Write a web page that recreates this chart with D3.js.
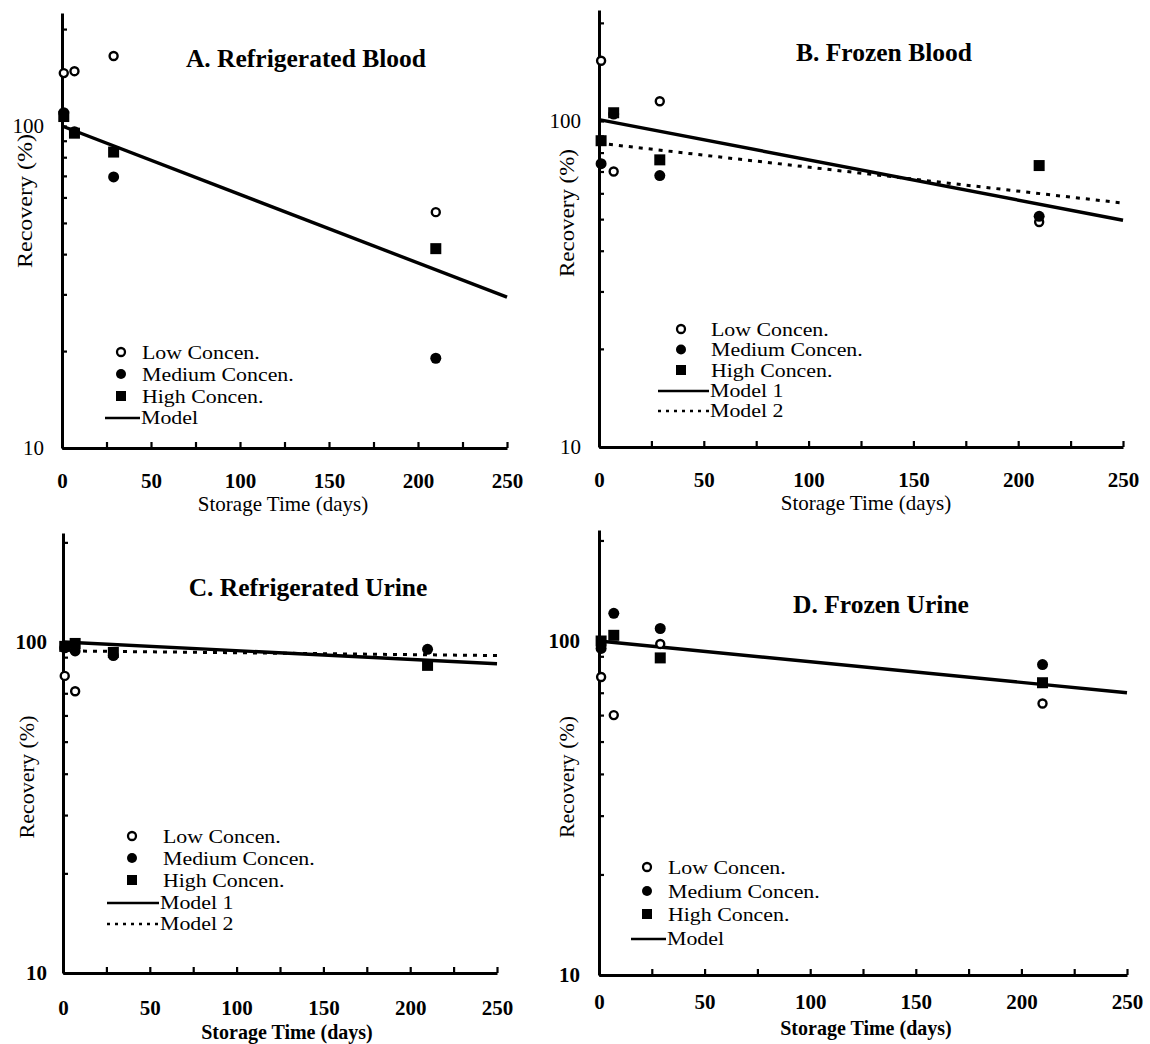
<!DOCTYPE html>
<html>
<head>
<meta charset="utf-8">
<script src="https://cdn.jsdelivr.net/npm/d3@7"></script>
<style>
  body { margin: 0; background: #fff; }
  svg text { font-family: "Liberation Serif", "Times New Roman", serif; fill: #000; }
</style>
</head>
<body>
<svg id="chart" width="1150" height="1044"></svg>
<script>
// storage times (days) for the measured samples
var days = [1, 7, 29, 210];
var modelDays = [0, 250];

// A. refrigerated blood
var lowA = [146, 148, 165, 54];
var medA = [110, 96, 69.5, 19];
var highA = [107, 95, 83, 41.6];
var modelA = [100, 29.4];

// B. frozen blood
var lowB = [153, 70, 115, 49];
var medB = [74, 105, 68, 51];
var highB = [87, 106, 76, 73];
var model1B = [101, 49.6];
var model2B = [85.5, 56];

// C. refrigerated urine (no visible low point at 29 / 210 days)
var lowC = [79, 71, null, null];
var medC = [96, 94, 91, 95];
var highC = [97, 99, 93, 85];
var model1C = [100, 86];
var model2C = [94, 91];

// D. frozen urine
var lowD = [78, 60, 98, 65];
var medD = [95, 121, 109, 85];
var highD = [100, 104, 89, 75];
var modelD = [100, 70];

var xTicks = [0, 25, 50, 75, 100, 125, 150, 175, 200, 225, 250];
var yTicks = [10, 20, 30, 40, 50, 60, 70, 80, 90, 100, 200];
var yLabels = [10, 100];

var svg = d3.select("#chart");

// layout of each panel (pixel positions only)
var panels = [
  {title: "A. Refrigerated Blood", low: lowA, med: medA, high: highA, models: [modelA], bold: false,
   x0: 62, x1: 507, yb: 448, y100: 126, ytop: 13, xpad: 25, ypad: 18,
   tx: 306, ty: 58, xlx: 283, xly: 504, ylx: 25, yly: 201, ylen: 134,
   leg: {mx: 121, tx: 142, rows: [352, 374, 396, 417], l0: 105, l1: 140}},
  {title: "B. Frozen Blood", low: lowB, med: medB, high: highB, models: [model1B, model2B], bold: false,
   x0: 599, x1: 1123, yb: 447, y100: 121, ytop: 10, xpad: 25, ypad: 18,
   tx: 884, ty: 52, xlx: 866, xly: 503, ylx: 567, yly: 213, ylen: 128,
   leg: {mx: 681, tx: 711, rows: [329, 349.5, 370, 390, 410], l0: 658, l1: 709}},
  {title: "C. Refrigerated Urine", low: lowC, med: medC, high: highC, models: [model1C, model2C], bold: true,
   x0: 63, x1: 497, yb: 973, y100: 642, ytop: 533, xpad: 27, ypad: 16,
   tx: 308, ty: 587, xlx: 287, xly: 1032, ylx: 27, yly: 777, ylen: 123,
   leg: {mx: 132, tx: 163, rows: [836, 858, 880, 902, 923], l0: 107, l1: 159}},
  {title: "D. Frozen Urine", low: lowD, med: medD, high: highD, models: [modelD], bold: true,
   x0: 599, x1: 1127, yb: 975, y100: 641, ytop: 530, xpad: 19, ypad: 19,
   tx: 881, ty: 604, xlx: 866, xly: 1028, ylx: 567, yly: 777, ylen: 122,
   leg: {mx: 647, tx: 668, rows: [867, 891, 914, 938], l0: 631, l1: 666}}
];

panels.forEach(drawPanel);

function drawPanel(p) {
  var g = svg.append("g");
  var topVal = Math.pow(10, 1 + (p.yb - p.ytop) / (p.yb - p.y100));
  var x = d3.scaleLinear().domain([0, 250]).range([p.x0, p.x1]);
  var y = d3.scaleLog().domain([10, topVal]).range([p.yb, p.ytop]);

  var xAxis = g.append("g")
    .attr("transform", "translate(0," + p.yb + ")")
    .call(d3.axisBottom(x).tickValues(xTicks).tickSize(-6).tickSizeOuter(0).tickPadding(p.xpad)
      .tickFormat(function(d) { return d % 50 === 0 ? d : ""; }));
  var yAxis = g.append("g")
    .attr("transform", "translate(" + p.x0 + ",0)")
    .call(d3.axisLeft(y).tickValues(yTicks).tickSize(-5).tickSizeOuter(0).tickPadding(p.ypad)
      .tickFormat(function(d) { return yLabels.indexOf(d) >= 0 ? d : ""; }));

  [xAxis, yAxis].forEach(function(a) {
    a.select(".domain").attr("stroke", "#000").attr("stroke-width", 3);
    a.selectAll(".tick line").attr("stroke", "#000").attr("stroke-width", 2.2);
    a.selectAll(".tick text").style("font-size", "21px")
      .style("font-family", "'Liberation Serif', serif");
  });
  xAxis.selectAll(".tick text").style("font-weight", "bold");
  yAxis.selectAll(".tick text").style("font-weight", p.bold ? "bold" : "normal");

  g.append("text").attr("x", p.tx).attr("y", p.ty).attr("dy", "0.35em")
    .attr("text-anchor", "middle").style("font-size", "25.5px").style("font-weight", "bold")
    .text(p.title);
  g.append("text").attr("x", p.xlx).attr("y", p.xly).attr("dy", "0.35em")
    .attr("text-anchor", "middle").style("font-size", p.bold ? "20px" : "21px")
    .style("font-weight", p.bold ? "bold" : "normal")
    .text("Storage Time (days)");
  g.append("text").attr("transform", "translate(" + p.ylx + "," + p.yly + ") rotate(-90)")
    .attr("dy", "0.35em").attr("text-anchor", "middle").style("font-size", "20px")
    .attr("textLength", p.ylen).attr("lengthAdjust", "spacingAndGlyphs")
    .text("Recovery (%)");

  // model lines
  var line = d3.line().x(function(d) { return x(d[0]); }).y(function(d) { return y(d[1]); });
  p.models.forEach(function(m, i) {
    g.append("path")
      .datum(modelDays.map(function(t, j) { return [t, m[j]]; }))
      .attr("d", line).attr("fill", "none").attr("stroke", "#000")
      .attr("stroke-width", i === 0 ? 3.4 : 3)
      .attr("stroke-dasharray", i === 0 ? null : "4,6");
  });

  // data points
  var pts = function(arr) {
    return days.map(function(t, i) { return [t, arr[i]]; })
      .filter(function(d) { return d[1] != null; });
  };
  g.selectAll(".low").data(pts(p.low)).enter().append("circle")
    .attr("cx", function(d) { return x(d[0]); }).attr("cy", function(d) { return y(d[1]); })
    .attr("r", 4).attr("fill", "#fff").attr("stroke", "#000").attr("stroke-width", 2.4);
  g.selectAll(".med").data(pts(p.med)).enter().append("circle")
    .attr("cx", function(d) { return x(d[0]); }).attr("cy", function(d) { return y(d[1]); })
    .attr("r", 5.5).attr("fill", "#000");
  g.selectAll(".high").data(pts(p.high)).enter().append("rect")
    .attr("x", function(d) { return x(d[0]) - 5.5; }).attr("y", function(d) { return y(d[1]) - 5.5; })
    .attr("width", 11).attr("height", 11).attr("fill", "#000");

  // legend (text is wide but the rows are packed tightly in the original)
  var L = p.leg;
  var names = ["Low Concen.", "Medium Concen.", "High Concen."];
  if (p.models.length === 1) names.push("Model");
  else names.push("Model 1", "Model 2");
  names.forEach(function(n, i) {
    var ly = L.rows[i];
    if (i === 0) g.append("circle").attr("cx", L.mx).attr("cy", ly).attr("r", 4)
      .attr("fill", "#fff").attr("stroke", "#000").attr("stroke-width", 2.3);
    else if (i === 1) g.append("circle").attr("cx", L.mx).attr("cy", ly).attr("r", 5).attr("fill", "#000");
    else if (i === 2) g.append("rect").attr("x", L.mx - 5).attr("y", ly - 5)
      .attr("width", 10).attr("height", 10).attr("fill", "#000");
    else g.append("line").attr("x1", L.l0).attr("x2", L.l1).attr("y1", ly + 1).attr("y2", ly + 1)
      .attr("stroke", "#000").attr("stroke-width", 2.4)
      .attr("stroke-dasharray", i === 4 ? "3,5" : null);
    var t = g.append("text").attr("x", i < 3 ? L.tx : L.l1 + 1).attr("y", ly).attr("dy", "0.35em")
      .style("font-size", "19px").text(n);
    var w = t.node().getComputedTextLength();
    t.attr("textLength", w * 1.15).attr("lengthAdjust", "spacingAndGlyphs");
  });
}
</script>
</body>
</html>
